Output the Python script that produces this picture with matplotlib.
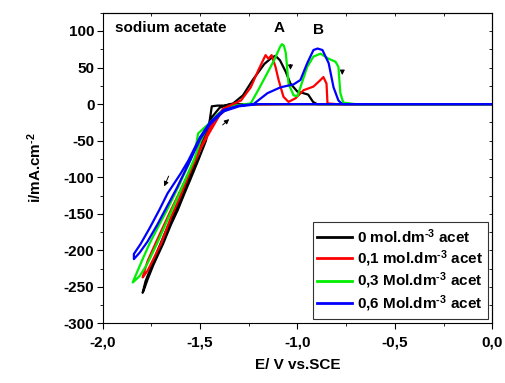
import matplotlib
matplotlib.use("Agg")
from matplotlib import pyplot as plt
from matplotlib.ticker import MultipleLocator

plt.rcParams['font.family'] = ['Liberation Sans', 'DejaVu Sans']
plt.rcParams['font.weight'] = 'bold'
plt.rcParams['mathtext.fontset'] = 'custom'
plt.rcParams['mathtext.rm'] = 'Liberation Sans:bold'
plt.rcParams['mathtext.default'] = 'rm'
plt.rcParams['axes.unicode_minus'] = False

# potential (V vs SCE) and current density (mA/cm2)
E_0 = [0.0, -0.5, -1.0, -1.3, -1.36, -1.40, -1.44, -1.47, -1.50, -1.54, -1.58, -1.63, -1.67, -1.71, -1.75, -1.78, -1.795,
       -1.79, -1.77, -1.74, -1.69, -1.65, -1.615, -1.58, -1.55, -1.51, -1.47, -1.455, -1.445, -1.44, -1.41, -1.37,
       -1.33, -1.28, -1.23, -1.17, -1.13, -1.113, -1.09, -1.06, -1.036, -1.0, -0.97, -0.945, -0.92, -0.90, -0.85, -0.5, 0.0]
i_0 = [0, 0, 0, 0, -1, -5, -18, -38, -60, -90, -115, -148, -170, -195, -222, -242, -258,
       -255, -240, -220, -191, -165, -145, -122, -103, -77, -50, -30, -12, -3, -2, -2,
       1, 12, 33, 55, 64, 66, 60, 44, 28, 17, 15, 13, 3, 0, 0, 0, 0]

E_1 = [0.0, -0.5, -1.0, -1.3, -1.35, -1.40, -1.45, -1.50, -1.55, -1.60, -1.65, -1.70, -1.74, -1.77, -1.795,
       -1.79, -1.77, -1.73, -1.69, -1.65, -1.59, -1.53, -1.48, -1.43, -1.38, -1.34,
       -1.29, -1.24, -1.20, -1.164, -1.149, -1.133, -1.113, -1.097, -1.072, -1.046, -1.01, -0.969, -0.918, -0.882,
       -0.867, -0.851, -0.846, -0.8, -0.5, 0.0]
i_1 = [0, 0, 0, -1, -4, -15, -38, -62, -92, -125, -155, -190, -212, -228, -237,
       -232, -215, -191, -168, -145, -112, -77, -50, -22, -6, -1,
       5, 23, 47, 67, 62, 67, 51, 33, 10, 3, 8, 19, 24, 33,
       37, 28, 1, 0, 0, 0]

E_3 = [0.0, -0.5, -1.0, -1.25, -1.32, -1.40, -1.46, -1.50, -1.53, -1.57, -1.62, -1.67, -1.72, -1.77, -1.81, -1.846,
       -1.84, -1.80, -1.76, -1.71, -1.67, -1.61, -1.55, -1.52, -1.51, -1.46, -1.40, -1.32,
       -1.24, -1.20, -1.16, -1.12, -1.09, -1.08, -1.07, -1.06, -1.046, -1.02, -1.0, -0.95, -0.918, -0.882, -0.84,
       -0.805, -0.79, -0.78, -0.765, -0.7, -0.5, 0.0]
i_3 = [0, 0, 0, 0, -3, -12, -30, -52, -75, -100, -130, -160, -190, -218, -235, -244,
       -240, -215, -191, -165, -145, -112, -77, -55, -40, -28, -12, -2,
       1, 20, 40, 60, 78, 82, 80, 70, 28, 12, 11, 51, 65, 69, 62,
       58, 51, 15, 2, 0, 0, 0]

E_6 = [0.0, -0.5, -1.0, -1.2, -1.30, -1.38, -1.45, -1.50, -1.56, -1.62, -1.67, -1.72, -1.77, -1.81, -1.84,
       -1.84, -1.805, -1.76, -1.71, -1.667, -1.60, -1.56, -1.50, -1.45, -1.38, -1.30,
       -1.226, -1.154, -1.087, -1.02, -0.985, -0.95, -0.918, -0.897, -0.872, -0.84, -0.815, -0.79, -0.77,
       -0.5, 0.0]
i_6 = [0, 0, 0, 0, -3, -10, -28, -48, -82, -115, -140, -165, -188, -203, -212,
       -205, -191, -170, -145, -122, -95, -77, -45, -25, -8, -2,
       0, 15, 23, 27, 33, 56, 74, 76, 74, 56, 23, 5, 0,
       0, 0]

curves = [
    (E_0, i_0, 'black', '0 mol.dm$^{\\text{-3}}$ acet'),
    (E_1, i_1, 'red', '0,1 mol.dm$^{\\text{-3}}$ acet'),
    (E_3, i_3, '#00ee00', '0,3 Mol.dm$^{\\text{-3}}$ acet'),
    (E_6, i_6, 'blue', '0,6 Mol.dm$^{\\text{-3}}$ acet'),
]

fig = plt.figure(figsize=(5.05, 3.83), dpi=100)
ax = fig.add_axes([0.2034, 0.1554, 0.7714, 0.8114])

for E, i, c, lab in curves:
    ax.plot(E, i, color=c, lw=1.6, label=lab)

# sweep direction arrows
arr = dict(arrowstyle='-|>', color='black', lw=0.7, mutation_scale=7)
ax.annotate('', xy=(-1.036, 43), xytext=(-1.036, 58), arrowprops=arr)
ax.annotate('', xy=(-0.77, 36), xytext=(-0.77, 50), arrowprops=arr)
ax.annotate('', xy=(-1.69, -116), xytext=(-1.656, -95), arrowprops=arr)
ax.annotate('', xy=(-1.34, -18), xytext=(-1.395, -31), arrowprops=arr)

fs = 11
ax.text(-1.935, 104, 'sodium acetate', fontsize=fs, fontweight='bold', va='center')
ax.text(-1.092, 104, 'A', fontsize=fs, fontweight='bold', va='center', ha='center')
ax.text(-0.892, 102, 'B', fontsize=fs, fontweight='bold', va='center', ha='center')

ax.set_xlim(-2.0, 0.0)
ax.set_ylim(-300, 125)
ax.set_xticks([-2.0, -1.5, -1.0, -0.5, 0.0])
ax.set_xticklabels([f'{v:.1f}'.replace('.', ',') for v in ax.get_xticks()], fontweight='bold')
ax.set_yticks([-300, -250, -200, -150, -100, -50, 0, 50, 100])
ax.set_yticklabels([str(v) for v in ax.get_yticks()], fontweight='bold')
ax.xaxis.set_minor_locator(MultipleLocator(0.25))
ax.yaxis.set_minor_locator(MultipleLocator(25))
ax.tick_params(which='major', direction='out', length=4, width=0.8, labelsize=fs, pad=2)
ax.tick_params(axis='x', which='major', pad=5)
ax.tick_params(which='minor', direction='out', length=2.5, width=0.6)

# inward ticks on top and right
top = ax.secondary_xaxis('top')
top.xaxis.set_major_locator(MultipleLocator(0.25))
top.tick_params(direction='in', length=2.5, width=0.6, labeltop=False)
right = ax.secondary_yaxis('right')
right.yaxis.set_major_locator(MultipleLocator(25))
right.tick_params(direction='in', length=2.5, width=0.6, labelright=False)

ax.set_xlabel('E/ V vs.SCE', fontsize=fs, fontweight='bold', labelpad=6)
ax.set_ylabel('i/mA.cm$^{\\text{-2}}$', fontsize=fs, fontweight='bold', labelpad=14)

leg = ax.legend(loc='lower right', fontsize=fs, frameon=True, fancybox=False,
                edgecolor='black', handlelength=2.3, handletextpad=0.3,
                labelspacing=0.15, borderpad=0.3, borderaxespad=0.3)
leg.get_frame().set_linewidth(0.8)
for line in leg.get_lines():
    line.set_linewidth(2)

plt.savefig('out.png', dpi=100)
